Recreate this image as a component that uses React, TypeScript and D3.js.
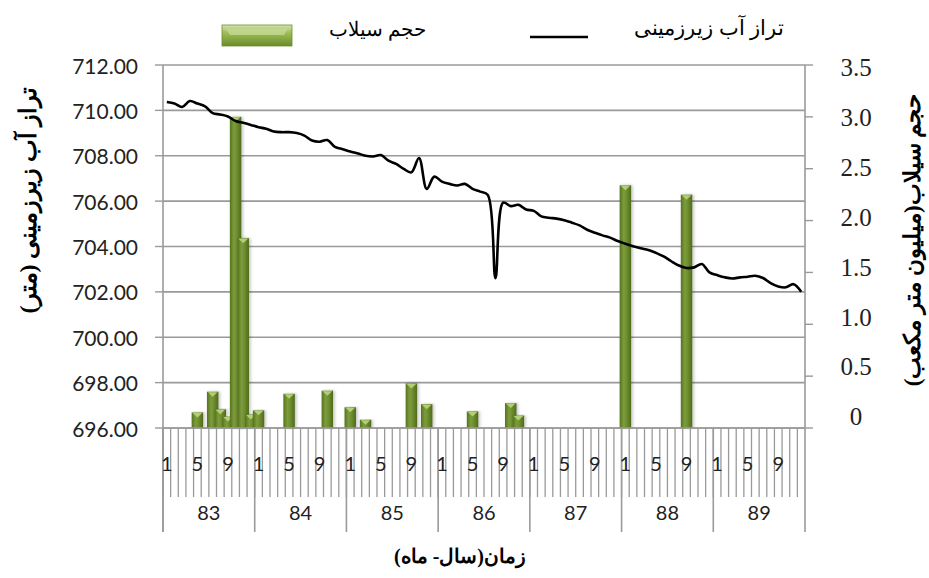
import React from 'react';
import * as d3 from 'd3';

// years (Persian calendar) and the months that get a label
const years = ['83', '84', '85', '86', '87', '88', '89'];
const monthLabels = ['1', '', '', '', '5', '', '', '', '9', '', '', ''];

// groundwater level (m), monthly from 83-1 to 89-12
const groundLevel = [
  710.37, 710.3, 710.15, 710.41, 710.3, 710.18, 709.88, 709.82, 709.73, 709.53, 709.45, 709.36,
  709.26, 709.19, 709.07, 709.04, 709.04, 709.0, 708.89, 708.67, 708.62, 708.69, 708.39, 708.29,
  708.19, 708.1, 708.0, 707.97, 708.03, 707.78, 707.64, 707.42, 707.27, 707.9, 706.54, 707.08,
  706.86, 706.76, 706.69, 706.76, 706.54, 706.42, 706.27, 702.6, 705.93, 705.78, 705.84, 705.63,
  705.57, 705.33, 705.27, 705.23, 705.16, 705.05, 704.93, 704.74, 704.61, 704.49, 704.39, 704.24,
  704.12, 704.01, 703.92, 703.85, 703.72, 703.56, 703.35, 703.16, 703.05, 703.08, 703.23, 702.86,
  702.74, 702.64, 702.59, 702.64, 702.67, 702.71, 702.61, 702.39, 702.24, 702.2, 702.34, 702.01,
];

// flood volume (million m3), only months with a flood
const floodPeriods = [
  '83-5', '83-7', '83-8', '83-9', '83-10', '83-11', '83-12', '84-1', '84-5', '84-10',
  '85-1', '85-3', '85-9', '85-11', '86-5', '86-10', '86-11', '88-1', '88-9',
];
const floodVolume = [
  0.15, 0.35, 0.18, 0.11, 3.0, 1.83, 0.13, 0.17, 0.33, 0.36,
  0.2, 0.08, 0.43, 0.23, 0.16, 0.24, 0.12, 2.34, 2.25,
];

const leftTicks = [696, 698, 700, 702, 704, 706, 708, 710, 712];
const rightTicks = [0, 0.5, 1, 1.5, 2, 2.5, 3, 3.5];

const W = 929;
const H = 578;
const P = { left: 163, right: 805, top: 65, bottom: 428 };
const grid = '#9a9a9a';
const sans = "Lato, 'Open Sans', sans-serif";
const serif = "'Liberation Serif', 'Times New Roman', serif";

export default function App() {
  const periods = years.flatMap((y) => d3.range(1, 13).map((m) => `${y}-${m}`));
  const x = d3.scaleBand().domain(periods).range([P.left, P.right]);
  const yL = d3.scaleLinear().domain([696, 712]).range([P.bottom, P.top]);
  const yR = d3.scaleLinear().domain([0, 3.5]).range([P.bottom, P.top]);
  const bw = x.bandwidth() * 1.5;
  const mid = (p: string) => x(p)! + x.bandwidth() / 2;

  const line = d3
    .line<number>()
    .x((_, i) => mid(periods[i]))
    .y((d) => yL(d))
    .curve(d3.curveCatmullRom.alpha(0.5));

  const bars = floodPeriods.map((p, i) => ({ p, v: floodVolume[i] }));

  return (
    <div style={{ position: 'absolute', left: 0, top: 0 }}>
      <svg width={W} height={H} style={{ display: 'block', background: '#fff' }}>
        <defs>
          <linearGradient id="barG" x1="0" x2="1" y1="0" y2="0">
            <stop offset="0" stopColor="#55731f" />
            <stop offset="0.35" stopColor="#7d9c3c" />
            <stop offset="0.6" stopColor="#6f8e30" />
            <stop offset="1" stopColor="#4f6b1c" />
          </linearGradient>
          <linearGradient id="legG" x1="0" x2="0" y1="0" y2="1">
            <stop offset="0" stopColor="#d4e4ae" />
            <stop offset="0.35" stopColor="#9fbf5a" />
            <stop offset="1" stopColor="#6b8c2a" />
          </linearGradient>
          <filter id="shadow" x="-50%" y="-5%" width="200%" height="110%">
            <feDropShadow dx="1.5" dy="0" stdDeviation="1.5" floodColor="#000" floodOpacity="0.25" />
          </filter>
        </defs>

        {/* gridlines */}
        {leftTicks.map((t) => (
          <line key={t} x1={P.left} x2={P.right} y1={yL(t)} y2={yL(t)} stroke={grid} strokeWidth={1.6} />
        ))}

        {/* bars */}
        {bars.map(({ p, v }) => {
          const cx = mid(p);
          const top = yR(v);
          const x0 = cx - bw / 2;
          const x1 = cx + bw / 2;
          const th = Math.min(5, (P.bottom - top) * 0.6);
          return (
            <g key={p} filter="url(#shadow)">
              <rect x={x0} y={top} width={bw} height={P.bottom - top} fill="url(#barG)" />
              <polygon
                points={`${x0 + 1},${top + 0.5} ${x1 - 1},${top + 0.5} ${cx},${top + th}`}
                fill="#b3cf74"
              />
            </g>
          );
        })}

        {/* groundwater line */}
        <path d={line(groundLevel) ?? ''} fill="none" stroke="#000" strokeWidth={2.6} strokeLinejoin="round" />

        {/* axis frames */}
        <line x1={P.left} x2={P.left} y1={P.top} y2={532} stroke={grid} strokeWidth={1.6} />
        <line x1={P.right} x2={P.right} y1={P.top} y2={532} stroke={grid} strokeWidth={1.6} />
        <line x1={P.left} x2={P.right} y1={P.bottom} y2={P.bottom} stroke={grid} strokeWidth={1.6} />

        {/* left axis */}
        {leftTicks.map((t) => (
          <g key={t}>
            <line x1={P.left - 8} x2={P.left} y1={yL(t)} y2={yL(t)} stroke={grid} strokeWidth={1.4} />
            <text x={138} y={yL(t)} textAnchor="end" dominantBaseline="central" fontFamily={sans} fontSize={21} fill="#222">
              {d3.format('.2f')(t)}
            </text>
          </g>
        ))}

        {/* right axis */}
        {rightTicks.map((t) => (
          <g key={t}>
            <line x1={P.right} x2={P.right + 8} y1={yR(t)} y2={yR(t)} stroke={grid} strokeWidth={1.4} />
            <text
              x={856}
              y={5.5 + 0.961 * yR(t)}
              textAnchor="middle"
              dominantBaseline="central"
              fontFamily={serif}
              fontSize={25}
              fill="#222"
            >
              {t === 0 ? '0' : d3.format('.1f')(t)}
            </text>
          </g>
        ))}

        {/* category axis: month ticks, then year separators, then labels on top */}
        {periods.map((p) => (
          <line key={p} x1={x(p)!} x2={x(p)!} y1={P.bottom} y2={497} stroke={grid} strokeWidth={1.3} />
        ))}
        {years.map((y) => (
          <line key={y} x1={x(`${y}-1`)!} x2={x(`${y}-1`)!} y1={P.bottom} y2={532} stroke={grid} strokeWidth={1.6} />
        ))}
        {periods.map((p, i) =>
          monthLabels[i % 12] ? (
            <text
              key={p}
              x={mid(p)}
              y={463}
              textAnchor="middle"
              dominantBaseline="central"
              fontFamily={sans}
              fontSize={20}
              fill="#222"
            >
              {monthLabels[i % 12]}
            </text>
          ) : null
        )}
        {years.map((y) => (
          <text
            key={y}
            x={(x(`${y}-1`)! + x(`${y}-12`)! + x.bandwidth()) / 2}
            y={512}
            textAnchor="middle"
            dominantBaseline="central"
            fontFamily={sans}
            fontSize={20}
            fill="#222"
          >
            {y}
          </text>
        ))}

        {/* axis titles */}
        <text
          transform="translate(28,200) rotate(-90)"
          textAnchor="middle"
          dominantBaseline="central"
          fontWeight="bold"
          fontSize={24}
          fontFamily={serif}
          direction="rtl"
        >
          تراز آب زیرزمینی (متر)
        </text>
        <text
          transform="translate(912,240) rotate(-90)"
          textAnchor="middle"
          dominantBaseline="central"
          fontWeight="bold"
          fontSize={23}
          fontFamily={serif}
          direction="rtl"
        >
          حجم سیلاب(میلیون متر مکعب)
        </text>
        <text
          x={460}
          y={556}
          textAnchor="middle"
          dominantBaseline="central"
          fontWeight="bold"
          fontSize={20}
          fontFamily={serif}
          direction="rtl"
        >
          زمان(سال- ماه)
        </text>

        {/* legend */}
        <rect x={222} y={25} width={70} height={21} fill="url(#legG)" stroke="#6b8c2a" strokeWidth={0.8} />
        <polygon points="226,29 288,29 284,35 230,35" fill="#c5da93" opacity={0.8} />
        <text x={377} y={29} textAnchor="middle" dominantBaseline="central" fontSize={20} fontFamily={serif} direction="rtl">
          حجم سیلاب
        </text>
        <line x1={530} x2={588} y1={37} y2={37} stroke="#000" strokeWidth={2.6} />
        <text x={709} y={28} textAnchor="middle" dominantBaseline="central" fontSize={21} fontFamily={serif} direction="rtl">
          تراز آب زیرزمینی
        </text>
      </svg>
    </div>
  );
}
